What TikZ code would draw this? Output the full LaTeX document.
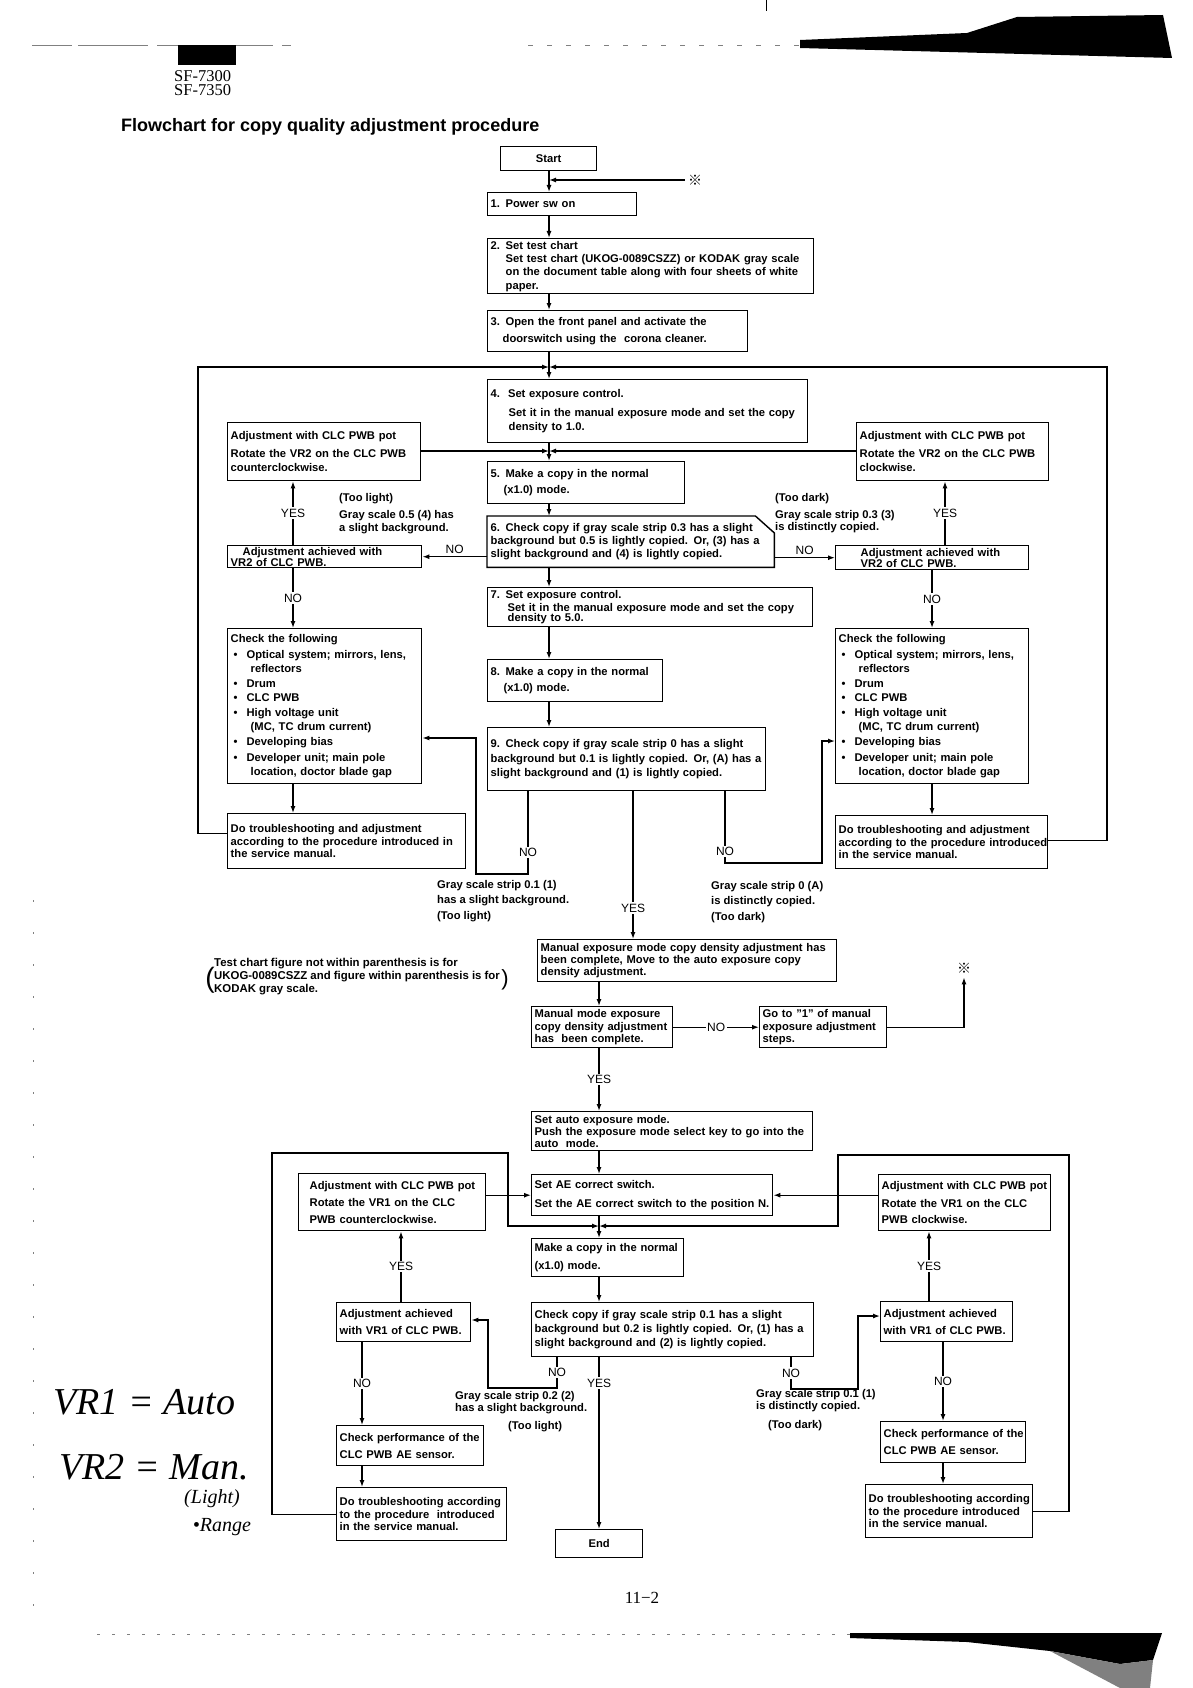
\documentclass[tikz,border=0pt]{standalone}
\usepackage{fontspec}
\setmainfont{Liberation Sans}
\newfontfamily\headserif{Liberation Serif}
\newfontfamily\cjk{Noto Sans CJK JP}
\usetikzlibrary{arrows.meta}

\newcommand\boxfont{\fontsize{11.2}{13.3}\selectfont\bfseries}
\newcommand\ynfont{\fontsize{12}{14}\selectfont}
\newcommand\bxind{\hspace*{15pt}}
\newcommand\chklist{Check the following\\[2pt]
  \hspace*{3pt}\textbullet\hspace*{9pt}Optical system; mirrors, lens,\\[1pt]
  \hspace*{20pt}reflectors\\[2pt]
  \hspace*{3pt}\textbullet\hspace*{9pt}Drum\\[1pt]
  \hspace*{3pt}\textbullet\hspace*{9pt}CLC PWB\\[1pt]
  \hspace*{3pt}\textbullet\hspace*{9pt}High voltage unit\\[1pt]
  \hspace*{20pt}(MC, TC drum current)\\[2pt]
  \hspace*{3pt}\textbullet\hspace*{9pt}Developing bias\\[2pt]
  \hspace*{3pt}\textbullet\hspace*{9pt}Developer unit; main pole\\[1pt]
  \hspace*{20pt}location, doctor blade gap}

\begin{document}
\begin{tikzpicture}[x=1pt, y=-1pt,
  proc/.style={draw, line width=1.4pt, anchor=north west, align=left,
    inner xsep=3pt, inner ysep=1pt, font=\boxfont},
  sz/.style 2 args={text width=#1pt-6pt, minimum height=#2pt},
  flow/.style={line width=1.3pt, -{Latex[length=7pt,width=5pt]}},
  yn/.style={fill=white, inner sep=1.5pt, font=\ynfont},
  note/.style={anchor=north west, align=left, inner sep=0pt, font=\boxfont}]
  \fill[white] (0,0) rectangle (1192,1688);
  \useasboundingbox (0,0) rectangle (1192,1688);

  % scan edges
  \draw[gray, line width=0.6pt, dash pattern=on 40pt off 6pt on 70pt off 9pt] (32,45) -- (291,45);
  \draw[gray, line width=0.6pt, dash pattern=on 5pt off 14pt] (528,45) -- (800,45);
  \fill (800,40) -- (967,33) -- (1017,17) -- (1163,15) -- (1172,58) -- (800,48) -- cycle;
  \draw[line width=0.6pt] (766,0) -- (766,11);
  \draw[gray, line width=0.5pt, dash pattern=on 2pt off 30pt] (33,900) -- (33,1620);
  \draw[gray, line width=0.5pt, dash pattern=on 3pt off 12pt] (97,1634) -- (850,1634);
  \fill (850,1633) -- (1162,1633) -- (1153,1660) -- (1120,1664) -- (1050,1651) -- (967,1642) -- (850,1638) -- cycle;
  \fill[gray] (1050,1651) -- (1120,1664) -- (1153,1660) -- (1150,1688) -- (1120,1688) -- cycle;

  % header
  \fill (178,45) rectangle (236,65);
  \node[anchor=north west, align=left, inner sep=0pt, font=\headserif\fontsize{16.5}{14}\selectfont] (model) at (174,70) {SF-7300\\SF-7350};
  \node[anchor=west, inner sep=0pt, font=\fontsize{18}{20}\selectfont\bfseries] (title) at (121,127) {Flowchart for copy quality adjustment procedure};

  % manual exposure steps
  \coordinate (sp) at (549,0);
  \node[proc, sz={96}{24}, align=center] (start) at (500,146) {Start};
  \node[font=\cjk\fontsize{14}{14}\selectfont, inner sep=1pt] (ref1) at (695,180) {※};
  \node[proc, sz={149}{23}] (s1) at (487,192) {1. Power sw on};
  \node[proc, sz={326}{55}] (s2) at (487,238) {2. Set test chart\\\bxind\mbox{Set test chart (UKOG-0089CSZZ) or KODAK gray scale}\\\bxind\mbox{on the document table along with four sheets of white}\\\bxind paper.};
  \node[proc, sz={260}{41}] (s3) at (487,310) {3. Open the front panel and activate the\\[4pt]\hspace*{12pt}doorswitch using the\ \ corona cleaner.};
  \node[proc, sz={320}{63}] (s4) at (487,379) {4.\hspace*{8pt}Set exposure control.\\[5pt]\hspace*{18pt}\mbox{Set it in the manual exposure mode and set the copy}\\[1pt]\hspace*{18pt}density to 1.0.};
  \node[proc, sz={197}{42}] (s5) at (487,461) {5. Make a copy in the normal\\[3pt]\hspace*{13pt}(x1.0) mode.};
  \node[proc, draw=none, sz={286}{50}] (s6) at (487,516) {\mbox{6. Check copy if gray scale strip 0.3 has a slight}\\\mbox{background but 0.5 is lightly copied. Or, (3) has a}\\slight background and (4) is lightly copied.};
  \draw[line width=1.4pt] (s6.north west) -- ([xshift=-19pt]s6.north east)
    -- ([yshift=-17pt]s6.north east) -- (s6.south east) -- (s6.south west) -- cycle;
  \node[proc, sz={325}{39}] (s7) at (487,587) {7. Set exposure control.\\[-1pt]\hspace*{17pt}\mbox{Set it in the manual exposure mode and set the copy}\\[-3pt]\hspace*{17pt}density to 5.0.};
  \node[proc, sz={175}{42}] (s8) at (487,659) {8. Make a copy in the normal\\[3pt]\hspace*{13pt}(x1.0) mode.};
  \node[proc, sz={278}{63}] (s9) at (487,727) {\mbox{9. Check copy if gray scale strip 0 has a slight}\\[1pt]\mbox{background but 0.1 is lightly copied. Or, (A) has a}\\[1pt]\mbox{slight background and (1) is lightly copied.}};

  % VR2 side branches
  \node[proc, sz={193}{58}] (adjl) at (227,422) {Adjustment with CLC PWB pot\\[4pt]\mbox{Rotate the VR2 on the CLC PWB}\\[1pt]counterclockwise.};
  \node[proc, sz={194}{22}] (achl) at (227,545) {\hspace*{12pt}Adjustment achieved with\\[-2.5pt]VR2 of CLC PWB.};
  \node[proc, sz={194}{155}] (chkl) at (227,628) {\chklist};
  \node[proc, sz={238}{55}] (dtl) at (227,813) {Do troubleshooting and adjustment\\[-1pt]\mbox{according to the procedure introduced in}\\[-1pt]the service manual.};
  \node[proc, sz={192}{58}] (adjr) at (856,422) {Adjustment with CLC PWB pot\\[4pt]\mbox{Rotate the VR2 on the CLC PWB}\\[1pt]clockwise.};
  \node[proc, sz={193}{24}] (achr) at (835,545) {\hspace*{22pt}Adjustment achieved with\\[-2.5pt]\hspace*{22pt}VR2 of CLC PWB.};
  \node[proc, sz={193}{155}] (chkr) at (835,628) {\chklist};
  \node[proc, sz={212}{53}] (dtr) at (835,815) {Do troubleshooting and adjustment\\[-1pt]\mbox{according to the procedure introduced}\\[-1pt]in the service manual.};

  \node[note] (lightA) at (339,493) {(Too light)\\[4pt]Gray scale 0.5 (4) has\\a slight background.};
  \node[note] (darkA) at (775,493) {(Too dark)\\[4pt]Gray scale strip 0.3 (3)\\[-1pt]is distinctly copied.};
  \node[note] (lightB) at (437,880) {Gray scale strip 0.1 (1)\\[2pt]has a slight background.\\[3pt](Too light)};
  \node[note] (darkB) at (711,881) {Gray scale strip 0 (A)\\[2pt]is distinctly copied.\\[3pt](Too dark)};

  \draw[flow] (start.south -| sp) -- (s1.north -| sp);
  \draw[flow, shorten <=2pt] (ref1.west) -- (ref1.west -| sp);
  \draw[flow] (s1.south -| sp) -- (s2.north -| sp);
  \draw[flow] (s2.south -| sp) -- (s3.north -| sp);
  \draw[flow] (s3.south -| sp) -- (s4.north -| sp);
  \coordinate (jn4) at (549,367);
  \draw[flow] ([yshift=8pt]dtl.west) -| (198,367) -- (jn4);
  \draw[flow] ([yshift=2pt]dtr.east) -| (1107,367) -- (jn4);
  \coordinate (jn5) at (549,451);
  \draw[flow] (adjl.east |- jn5) -- (jn5);
  \draw[flow] (adjr.west |- jn5) -- (jn5);
  \draw[flow] (s4.south -| sp) -- (s5.north -| sp);
  \draw[flow] (s5.south -| sp) -- (s6.north -| sp);
  \draw[flow] (s6.south -| sp) -- (s7.north -| sp);
  \draw[flow] (s7.south -| sp) -- (s8.north -| sp);
  \draw[flow] (s8.south -| sp) -- (s9.north -| sp);

  \draw[flow] (s6.west |- achl.east) -- node[above, inner sep=2pt, font=\ynfont] {NO} (achl.east);
  \draw[flow] (s6.east |- achr.west) -- node[above, inner sep=2pt, font=\ynfont] {NO} (achr.west);
  \coordinate (lx) at (293,0);
  \draw[flow] (achl.north -| lx) -- node[yn] {YES} (adjl.south -| lx);
  \draw[flow] (achl.south -| lx) -- node[yn] {NO} (chkl.north -| lx);
  \draw[flow] (chkl.south -| lx) -- (dtl.north -| lx);
  \coordinate (rxa) at (945,0);
  \coordinate (rxb) at (932,0);
  \draw[flow] (achr.north -| rxa) -- node[yn] {YES} (adjr.south -| rxa);
  \draw[flow] (achr.south -| rxb) -- node[yn] {NO} (chkr.north -| rxb);
  \draw[flow] (chkr.south -| rxb) -- (dtr.north -| rxb);

  \coordinate (n9a) at (528,874);
  \coordinate (n9b) at (476,738);
  \draw[flow] (s9.south -| n9a) -- node[yn, pos=0.74] {NO} (n9a) -| (n9b) -- (n9b -| chkl.east);
  \coordinate (n9c) at (725,863);
  \coordinate (n9d) at (822,741);
  \draw[flow] (s9.south -| n9c) -- node[yn, pos=0.84] {NO} (n9c) -| (n9d) -- (n9d -| chkr.west);

  % auto exposure steps
  \coordinate (sq) at (599,0);
  \node[proc, sz={299}{42}] (mx) at (537,939) {\mbox{Manual exposure mode copy density adjustment has}\\[-1pt]been complete, Move to the auto exposure copy\\[-1pt]density adjustment.};
  \draw[flow] (s9.south -| 633,0) -- node[yn, pos=0.79] {YES} (mx.north -| 633,0);
  \node[note, font=\fontsize{11.4}{13}\selectfont\bfseries] (chart) at (214,958) {Test chart figure not within parenthesis is for\\UKOG-0089CSZZ and figure within parenthesis is for\\KODAK gray scale.};
  \node[font=\fontsize{28}{28}\selectfont, inner sep=0pt] (lpar) at (210,980) {(};
  \node[font=\fontsize{22}{22}\selectfont, inner sep=0pt] (rpar) at (505,980) {)};
  \node[font=\cjk\fontsize{14}{14}\selectfont, inner sep=1pt] (ref2) at (964,968) {※};
  \node[proc, sz={141}{41}] (mm) at (531,1006) {Manual mode exposure\\[-1pt]\mbox{copy density adjustment}\\[-1pt]has\ \ been complete.};
  \node[proc, sz={127}{41}] (goto) at (759,1006) {Go to "1" of manual\\[-1pt]\mbox{exposure adjustment}\\[-1pt]steps.};
  \node[proc, sz={281}{39}] (auto) at (531,1111) {Set auto exposure mode.\\[-1.5pt]\mbox{Push the exposure mode select key to go into the}\\[-1.5pt]auto\ \ mode.};
  \node[proc, sz={241}{41}] (ae) at (531,1174) {Set AE correct switch.\\[6pt]\mbox{Set the AE correct switch to the position N.}};
  \node[proc, sz={152}{38}] (c2) at (531,1238) {Make a copy in the normal\\[4pt](x1.0) mode.};
  \node[proc, sz={282}{54}] (k2) at (531,1302) {\mbox{Check copy if gray scale strip 0.1 has a slight}\\[1pt]\mbox{background but 0.2 is lightly copied. Or, (1) has a}\\[1pt]slight background and (2) is lightly copied.};
  \node[proc, sz={87}{28}, align=center] (stop) at (555,1529) {End};

  \node[proc, sz={187}{57}] (adjl2) at (298,1173) {\hspace*{8pt}Adjustment with CLC PWB pot\\[4pt]\hspace*{8pt}Rotate the VR1 on the CLC\\[3pt]\hspace*{8pt}PWB counterclockwise.};
  \node[proc, sz={134}{39}] (achl2) at (336,1302) {Adjustment achieved\\[4pt]\mbox{with VR1 of CLC PWB.}};
  \node[proc, sz={147}{40}] (chkl2) at (336,1425) {\mbox{Check performance of the}\\[4pt]CLC PWB AE sensor.};
  \node[proc, sz={170}{53}] (dtl2) at (336,1487) {\mbox{Do troubleshooting according}\\[-1pt]to the procedure\ \ introduced\\[-1pt]in the service manual.};
  \node[proc, sz={172}{56}] (adjr2) at (878,1174) {\mbox{Adjustment with CLC PWB pot}\\[4pt]Rotate the VR1 on the CLC\\[3pt]PWB clockwise.};
  \node[proc, sz={132}{40}] (achr2) at (880,1301) {Adjustment achieved\\[4pt]\mbox{with VR1 of CLC PWB.}};
  \node[proc, sz={145}{41}] (chkr2) at (880,1421) {\mbox{Check performance of the}\\[4pt]CLC PWB AE sensor.};
  \node[proc, sz={167}{53}] (dtr2) at (865,1484) {\mbox{Do troubleshooting according}\\[-1pt]to the procedure introduced\\[-1pt]in the service manual.};

  \node[note] (lightC) at (455,1391) {Gray scale strip 0.2 (2)\\[-1pt]has a slight background.};
  \node[note] (lightCt) at (508,1421) {(Too light)};
  \node[note] (darkC) at (756,1389) {Gray scale strip 0.1 (1)\\[-1pt]is distinctly copied.};
  \node[note] (darkCt) at (768,1420) {(Too dark)};

  \draw[flow] (mx.south -| sq) -- (mm.north -| sq);
  \draw[flow] (mm.east) -- node[yn] {NO} (goto.west);
  \draw[flow, shorten >=3pt] (goto.east) -| (ref2.south);
  \draw[flow] (mm.south -| sq) -- node[yn] {YES} (auto.north -| sq);
  \draw[flow] (auto.south -| sq) -- (ae.north -| sq);
  \draw[flow] (adjl2.east |- ae.west) -- (ae.west);
  \draw[flow] (adjr2.west |- ae.east) -- (ae.east);
  \coordinate (jn6) at (599,1226);
  \draw[flow] (dtl2.west) -| (272,1153) -| (508,1226) -- (jn6);
  \draw[flow] (dtr2.east) -| (1069,1155) -| (838,1226) -- (jn6);
  \draw[flow] (ae.south -| sq) -- (c2.north -| sq);
  \draw[flow] (c2.south -| sq) -- (k2.north -| sq);
  \draw[flow] (k2.south -| sq) -- node[yn, pos=0.15] {YES} (stop.north -| sq);
  \coordinate (k2a) at (557,1388);
  \coordinate (k2b) at (488,1320);
  \draw[flow] (k2.south -| k2a) -- node[yn] {NO} (k2a) -| (k2b) -- (k2b -| achl2.east);
  \coordinate (k2c) at (791,1389);
  \coordinate (k2d) at (858,1316);
  \draw[flow] (k2.south -| k2c) -- node[yn] {NO} (k2c) -| (k2d) -- (k2d -| achr2.west);
  \draw[flow] (achl2.north -| 401,0) -- node[yn] {YES} (adjl2.south -| 401,0);
  \draw[flow] (achl2.south -| 362,0) -- node[yn] {NO} (chkl2.north -| 362,0);
  \draw[flow] (chkl2.south -| 362,0) -- (dtl2.north -| 362,0);
  \draw[flow] (achr2.north -| 929,0) -- node[yn] {YES} (adjr2.south -| 929,0);
  \draw[flow] (achr2.south -| 943,0) -- node[yn] {NO} (chkr2.north -| 943,0);
  \draw[flow] (chkr2.south -| 943,0) -- (dtr2.north -| 943,0);

  % page number and pen notes
  \node[font=\headserif\fontsize{17}{17}\selectfont] (page) at (642,1598) {11−2};
  \node[anchor=west, font=\headserif\itshape\fontsize{38}{38}\selectfont] (pen1) at (50,1402) {VR1 = Auto};
  \node[anchor=west, font=\headserif\itshape\fontsize{38}{38}\selectfont] (pen2) at (56,1467) {VR2 = Man.};
  \node[font=\headserif\itshape\fontsize{20}{20}\selectfont] (pen3) at (212,1499) {(Light)};
  \node[font=\headserif\itshape\fontsize{20}{20}\selectfont] (pen4) at (222,1527) {•Range};
\end{tikzpicture}
\end{document}
